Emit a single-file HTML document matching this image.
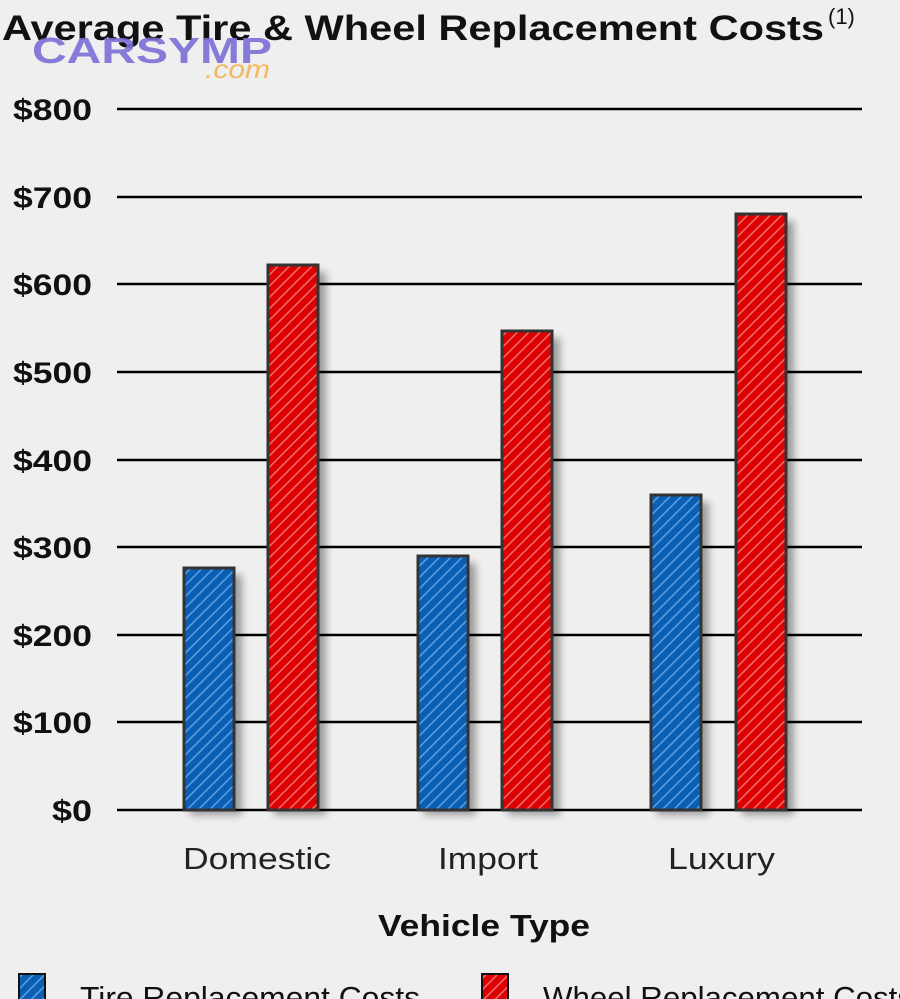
<!DOCTYPE html>
<html><head><style>
body{margin:0;background:#efefef;width:900px;height:999px;overflow:hidden;font-family:"Liberation Sans",sans-serif}
</style></head><body>
<svg width="900" height="999" xmlns="http://www.w3.org/2000/svg" style="position:absolute;left:0;top:0">
<defs>
<pattern id="hb" width="8" height="8" patternUnits="userSpaceOnUse" patternTransform="rotate(45)">
<rect width="8" height="8" fill="#0a5fb4"/><rect width="1.6" height="8" fill="#5c9be0"/></pattern>
<pattern id="hr" width="8" height="8" patternUnits="userSpaceOnUse" patternTransform="rotate(45)">
<rect width="8" height="8" fill="#dc0000"/><rect width="1.6" height="8" fill="#f06a6a"/></pattern>
<filter id="sh" x="-30%" y="-10%" width="160%" height="130%"><feGaussianBlur stdDeviation="4"/></filter>
</defs>
<text x="2" y="40" font-size="35" font-weight="bold" fill="#111" textLength="822" lengthAdjust="spacingAndGlyphs">Average Tire &amp; Wheel Replacement Costs</text>
<text x="828" y="24" font-size="22" fill="#111">(1)</text>
<text x="32" y="63" font-size="36" font-weight="bold" fill="#7b6fd6" opacity="0.9" textLength="240" lengthAdjust="spacingAndGlyphs">CARSYMP</text>
<text x="205" y="78" font-size="26" font-style="italic" fill="#f5b860" textLength="65" lengthAdjust="spacingAndGlyphs">.com</text>
<g stroke="#000" stroke-width="2.5">
<line x1="117" y1="109" x2="862" y2="109"/><line x1="117" y1="197" x2="862" y2="197"/>
<line x1="117" y1="284" x2="862" y2="284"/><line x1="117" y1="372" x2="862" y2="372"/>
<line x1="117" y1="460" x2="862" y2="460"/><line x1="117" y1="547" x2="862" y2="547"/>
<line x1="117" y1="635" x2="862" y2="635"/><line x1="117" y1="722" x2="862" y2="722"/>
<line x1="117" y1="810" x2="862" y2="810"/>
</g>
<g font-size="30" font-weight="bold" fill="#111">
<text x="13" y="120" textLength="79" lengthAdjust="spacingAndGlyphs">$800</text>
<text x="13" y="208" textLength="79" lengthAdjust="spacingAndGlyphs">$700</text>
<text x="13" y="295" textLength="79" lengthAdjust="spacingAndGlyphs">$600</text>
<text x="13" y="383" textLength="79" lengthAdjust="spacingAndGlyphs">$500</text>
<text x="13" y="471" textLength="79" lengthAdjust="spacingAndGlyphs">$400</text>
<text x="13" y="558" textLength="79" lengthAdjust="spacingAndGlyphs">$300</text>
<text x="13" y="646" textLength="79" lengthAdjust="spacingAndGlyphs">$200</text>
<text x="13" y="733" textLength="79" lengthAdjust="spacingAndGlyphs">$100</text>
<text x="52" y="821" textLength="40" lengthAdjust="spacingAndGlyphs">$0</text>
</g>
<g fill="#000" opacity="0.35" filter="url(#sh)">
<rect x="190" y="575" width="52" height="240"/><rect x="274" y="272" width="52" height="543"/>
<rect x="424" y="563" width="52" height="252"/><rect x="508" y="338" width="52" height="477"/>
<rect x="657" y="502" width="52" height="313"/><rect x="742" y="221" width="52" height="594"/>
</g>
<g stroke="#333" stroke-width="3">
<rect x="184" y="568" width="50" height="242" fill="url(#hb)"/>
<rect x="268" y="265" width="50" height="545" fill="url(#hr)"/>
<rect x="418" y="556" width="50" height="254" fill="url(#hb)"/>
<rect x="502" y="331" width="50" height="479" fill="url(#hr)"/>
<rect x="651" y="495" width="50" height="315" fill="url(#hb)"/>
<rect x="736" y="214" width="50" height="596" fill="url(#hr)"/>
</g>
<g font-size="31" fill="#222">
<text x="183" y="869" textLength="148" lengthAdjust="spacingAndGlyphs">Domestic</text>
<text x="438" y="869" textLength="100" lengthAdjust="spacingAndGlyphs">Import</text>
<text x="668" y="869" textLength="107" lengthAdjust="spacingAndGlyphs">Luxury</text>
</g>
<text x="378" y="936" font-size="31" font-weight="bold" fill="#111" textLength="212" lengthAdjust="spacingAndGlyphs">Vehicle Type</text>
<rect x="19" y="974" width="26" height="30" fill="url(#hb)" stroke="#111" stroke-width="2"/>
<text x="80" y="1008" font-size="31" fill="#111" textLength="340" lengthAdjust="spacingAndGlyphs">Tire Replacement Costs</text>
<rect x="482" y="974" width="26" height="30" fill="url(#hr)" stroke="#111" stroke-width="2"/>
<text x="543" y="1008" font-size="31" fill="#111" textLength="370" lengthAdjust="spacingAndGlyphs">Wheel Replacement Costs</text>
</svg>
</body></html>
